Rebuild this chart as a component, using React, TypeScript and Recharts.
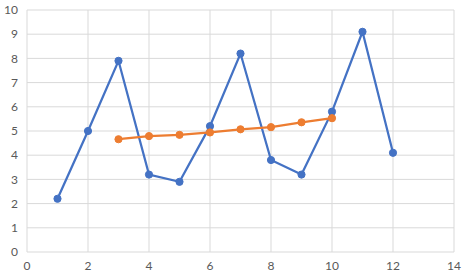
import { ScatterChart, Scatter, XAxis, YAxis, CartesianGrid } from "recharts";

const blueX = [1, 2, 3, 4, 5, 6, 7, 8, 9, 10, 11, 12];
const blueY = [2.2, 5, 7.9, 3.2, 2.9, 5.2, 8.2, 3.8, 3.2, 5.8, 9.1, 4.1];
const orangeX = [3, 4, 5, 6, 7, 8, 9, 10];
const orangeY = [4.66, 4.79, 4.84, 4.94, 5.07, 5.16, 5.36, 5.53];
const xTicks = [0, 2, 4, 6, 8, 10, 12, 14];
const yTicks = [0, 1, 2, 3, 4, 5, 6, 7, 8, 9, 10];

const blue = blueX.map((x, i) => ({ x, y: blueY[i] }));
const orange = orangeX.map((x, i) => ({ x, y: orangeY[i] }));

const tickStyle = { fill: "#595959", fontSize: 12, fontFamily: "Lato, 'Liberation Sans', sans-serif" };

const dot = (color: string) => (props: any) => (
  <circle cx={props.cx} cy={props.cy} r={3.6} fill={color} stroke={color} />
);

export default function App() {
  return (
    <div style={{ position: "absolute", left: 0, top: 0, background: "#fff" }}>
      <ScatterChart width={465} height={277} margin={{ top: 10, right: 11, left: 0, bottom: 0 }}>
        <CartesianGrid stroke="#D9D9D9" strokeWidth={1} />
        <XAxis
          type="number"
          dataKey="x"
          domain={[0, 14]}
          ticks={xTicks}
          axisLine={false}
          tickLine={false}
          tickMargin={3}
          height={25}
          tick={tickStyle}
          interval={0}
        />
        <YAxis
          type="number"
          dataKey="y"
          domain={[0, 10]}
          ticks={yTicks}
          axisLine={false}
          tickLine={false}
          tickMargin={3}
          width={27}
          tick={tickStyle}
          interval={0}
        />
        <Scatter
          data={blue}
          line={{ stroke: "#4472C4", strokeWidth: 2.25 }}
          lineType="joint"
          shape={dot("#4472C4")}
          isAnimationActive={false}
        />
        <Scatter
          data={orange}
          line={{ stroke: "#ED7D31", strokeWidth: 2.25 }}
          lineType="joint"
          shape={dot("#ED7D31")}
          isAnimationActive={false}
        />
      </ScatterChart>
    </div>
  );
}
